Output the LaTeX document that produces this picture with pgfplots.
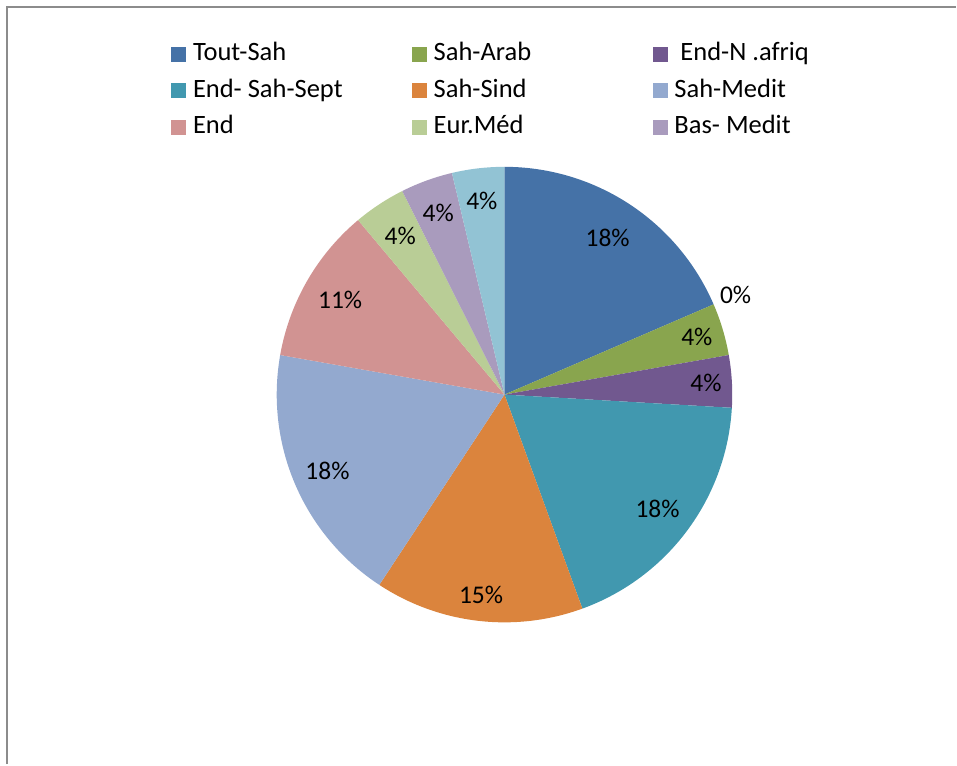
\documentclass[border=0pt]{standalone}
\usepackage{pgfplots}
\pgfplotsset{compat=1.18}
\usepackage{fontspec}
\setmainfont{Carlito}
\definecolor{c1}{HTML}{4572A7}
\definecolor{c2}{HTML}{AA4643}
\definecolor{c3}{HTML}{89A54E}
\definecolor{c4}{HTML}{71588F}
\definecolor{c5}{HTML}{4198AF}
\definecolor{c6}{HTML}{DB843D}
\definecolor{c7}{HTML}{93A9CF}
\definecolor{c8}{HTML}{D19392}
\definecolor{c9}{HTML}{B9CD96}
\definecolor{c10}{HTML}{A99BBD}
\definecolor{c11}{HTML}{92C3D4}
\definecolor{framegray}{HTML}{8C8C8C}
% value (count) / colour / label shown on the slice / label distance from centre
\def\slices{5/c1/18\%/188,0/c2/0\%/252,1/c3/4\%/201,1/c4/4\%/202,5/c5/18\%/191,4/c6/15\%/202,5/c7/18\%/193,3/c8/11\%/190,1/c9/4\%/190,1/c10/4\%/194,1/c11/4\%/195}
\def\total{27}
\def\cx{505}\def\cy{370}\def\R{228}
\begin{document}
\begin{tikzpicture}
\begin{axis}[
  width=957bp, height=765bp, scale only axis,
  xmin=0, xmax=957, ymin=0, ymax=765,
  hide axis, clip=false,
  legend columns=3,
  legend cell align=left,
  legend image code/.code={\fill[#1, draw=none] (0bp,-7.5bp) rectangle (15bp,7.5bp);},
  legend style={draw=none, fill=none,
    font=\fontsize{26.5bp}{31bp}\selectfont,
    at={(axis cs:171,723.5)}, anchor=north west,
    inner sep=0pt, row sep=11.7bp,
    nodes={inner sep=0pt, text height=19bp, text depth=6bp},
    /tikz/every odd column/.append style={column sep=7bp}},
]
\path (axis cs:0,0) rectangle (axis cs:957,765);
\draw[framegray, line width=2bp] (axis cs:7.5,0) -- (axis cs:7.5,757.5) -- (axis cs:957,757.5);
\gdef\cum{0}
\foreach \v/\c/\lab/\lr in \slices {
  \pgfmathsetmacro\a{90-\cum/\total*360}
  \pgfmathsetmacro\b{90-(\cum+\v)/\total*360}
  \pgfmathsetmacro\m{(\a+\b)/2}
  \ifdim\v pt>0pt
    \edef\temp{\noexpand\addplot[fill=\c, draw=none, forget plot, domain=\b:\a, samples=80]
      ({\cx+\R*cos(x)},{\cy+\R*sin(x)}) -- (axis cs:\cx,\cy) -- cycle;}
    \temp
  \fi
  \pgfmathsetmacro\lx{\cx+\lr*cos(\m)}
  \pgfmathsetmacro\ly{\cy+\lr*sin(\m)}
  \edef\temp{\noexpand\node[font=\noexpand\fontsize{25.5bp}{30bp}\noexpand\selectfont, inner sep=0pt] at (axis cs:\lx,\ly) {\lab};}
  \temp
  \pgfmathsetmacro\newcum{\cum+\v}
  \xdef\cum{\newcum}
}
\addlegendimage{fill=c1}\addlegendentry{\makebox[219bp][l]{Tout-Sah}}
\addlegendimage{fill=c3}\addlegendentry{\makebox[219bp][l]{Sah-Arab}}
\addlegendimage{fill=c4}\addlegendentry{\makebox[219bp][l]{\ End-N .afriq}}
\addlegendimage{fill=c5}\addlegendentry{\makebox[219bp][l]{End- Sah-Sept}}
\addlegendimage{fill=c6}\addlegendentry{\makebox[219bp][l]{Sah-Sind}}
\addlegendimage{fill=c7}\addlegendentry{\makebox[219bp][l]{Sah-Medit}}
\addlegendimage{fill=c8}\addlegendentry{\makebox[219bp][l]{End}}
\addlegendimage{fill=c9}\addlegendentry{\makebox[219bp][l]{Eur.Méd}}
\addlegendimage{fill=c10}\addlegendentry{\makebox[219bp][l]{Bas- Medit}}
\end{axis}
\end{tikzpicture}
\end{document}
